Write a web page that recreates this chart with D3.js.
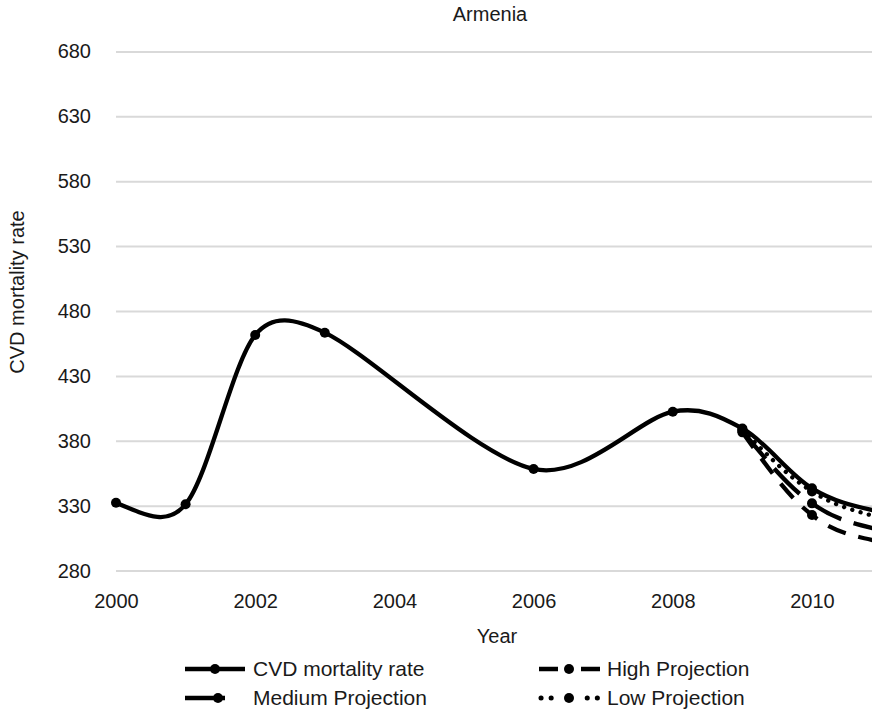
<!DOCTYPE html>
<html>
<head>
<meta charset="utf-8">
<script src="https://cdn.jsdelivr.net/npm/d3@7"></script>
<style>
  html, body { margin: 0; padding: 0; background: #fff; }
  svg { display: block; font-family: "Liberation Sans", Arial, Helvetica, sans-serif; }
</style>
</head>
<body>
<svg id="chart" width="872" height="714"></svg>
<script>
// ---- data ----
const chartTitle = "Armenia";
const years = [2000, 2001, 2002, 2003, 2006, 2008, 2009, 2010, 2011];
const cvdRate = [332.3, 331.1, 461.5, 463.3, 358.3, 402.4, 389.5, 343.4, 325.0];
const projYears = [2009, 2010, 2011];
const highProj = [386.5, 322.8, 302.0];
const mediumProj = [387.5, 331.8, 311.0];
const lowProj = [388.5, 341.0, 320.5];
const yTicks = [280, 330, 380, 430, 480, 530, 580, 630, 680];
const xTicks = [2000, 2002, 2004, 2006, 2008, 2010];
const seriesNames = ["CVD mortality rate", "High Projection", "Medium Projection", "Low Projection"];

// ---- smoothed-line curve (spreadsheet style Bezier smoothing) ----
function SmoothCurve(context) { this._context = context; }
SmoothCurve.prototype = {
  areaStart() {}, areaEnd() {},
  lineStart() { this._pts = []; },
  point(x, y) { this._pts.push([+x, +y]); },
  lineEnd() {
    const p = this._pts, n = p.length, c = this._context;
    if (!n) return;
    c.moveTo(p[0][0], p[0][1]);
    if (n === 1) return;
    if (n === 2) { c.lineTo(p[1][0], p[1][1]); return; }
    const dist = (a, b) => Math.hypot(b[0] - a[0], b[1] - a[1]);
    const outC = [], inC = [];
    for (let i = 1; i < n - 1; i++) {
      const d0 = dist(p[i - 1], p[i]), d1 = dist(p[i], p[i + 1]);
      const tx = (p[i + 1][0] - p[i - 1][0]) / 6, ty = (p[i + 1][1] - p[i - 1][1]) / 6;
      const fo = Math.sqrt(Math.min(1, 2 * d1 / (d0 + d1)));
      const fi = Math.sqrt(Math.min(1, 2 * d0 / (d0 + d1)));
      outC[i] = [p[i][0] + tx * fo, p[i][1] + ty * fo];
      inC[i] = [p[i][0] - tx * fi, p[i][1] - ty * fi];
    }
    outC[0] = [p[0][0] + (inC[1][0] - p[0][0]) * 2 / 3, p[0][1] + (inC[1][1] - p[0][1]) * 2 / 3];
    inC[n - 1] = [p[n - 1][0] + (outC[n - 2][0] - p[n - 1][0]) * 2 / 3,
                  p[n - 1][1] + (outC[n - 2][1] - p[n - 1][1]) * 2 / 3];
    for (let i = 0; i < n - 1; i++) {
      c.bezierCurveTo(outC[i][0], outC[i][1], inC[i + 1][0], inC[i + 1][1], p[i + 1][0], p[i + 1][1]);
    }
  }
};
const smoothCurve = ctx => new SmoothCurve(ctx);

// ---- layout ----
const svg = d3.select("#chart");
const left = 116, yearPx = 69.6;
const x = d3.scaleLinear().domain([2000, 2011]).range([left, left + 11 * yearPx]);
const y = d3.scaleLinear().domain([280, 680]).range([570.6, 51.4]);
const textColor = "#1a1a1a";
const fs = 20;

// gridlines
const grid = svg.append("g").attr("transform", `translate(${left},0)`)
  .call(d3.axisLeft(y).tickValues(yTicks).tickSize(-(x.range()[1] - left)).tickFormat(""));
grid.select(".domain").remove();
grid.selectAll("line").attr("stroke", "#d9d9d9").attr("stroke-width", 2);

// y axis labels
const yAx = svg.append("g").attr("transform", `translate(${left - 25},0)`)
  .call(d3.axisLeft(y).tickValues(yTicks).tickSize(0).tickPadding(0).tickFormat(d3.format("d")));
yAx.select(".domain").remove();
yAx.selectAll("text").attr("font-size", fs).attr("fill", textColor).attr("font-family", null);

// x axis labels
const xAx = svg.append("g").attr("transform", `translate(0,${y(280) + 23})`)
  .call(d3.axisBottom(x).tickValues(xTicks).tickSize(0).tickPadding(0).tickFormat(d3.format("d")));
xAx.select(".domain").remove();
xAx.selectAll("text").attr("font-size", fs).attr("fill", textColor).attr("font-family", null);

// titles
svg.append("text").attr("x", 490).attr("y", 21).attr("text-anchor", "middle")
  .attr("font-size", fs).attr("fill", textColor).text(chartTitle);
svg.append("text").attr("x", 497).attr("y", 643).attr("text-anchor", "middle")
  .attr("font-size", fs).attr("fill", textColor).text("Year");
svg.append("text").attr("transform", "translate(24,292) rotate(-90)").attr("text-anchor", "middle")
  .attr("font-size", fs).attr("fill", textColor).text("CVD mortality rate");

// ---- series ----
const lw = 4.3, r = 5;
const line = d3.line().x(d => x(d[0])).y(d => y(d[1])).curve(smoothCurve);
const series = [
  { name: seriesNames[0], xs: years, vs: cvdRate, dash: null, cap: "butt" },
  { name: seriesNames[1], xs: projYears, vs: highProj, dash: "19,13", cap: "butt" },
  { name: seriesNames[2], xs: projYears, vs: mediumProj, dash: "36,13", cap: "butt" },
  { name: seriesNames[3], xs: projYears, vs: lowProj, dash: "0.1,8.5", cap: "round" }
];
const plot = svg.append("g");
series.forEach(s => {
  const pts = s.xs.map((yr, i) => [yr, s.vs[i]]);
  plot.append("path").attr("d", line(pts)).attr("fill", "none")
    .attr("stroke", "#000").attr("stroke-width", lw)
    .attr("stroke-dasharray", s.dash).attr("stroke-linecap", s.cap);
  plot.selectAll(null).data(pts).enter().append("circle")
    .attr("cx", d => x(d[0])).attr("cy", d => y(d[1])).attr("r", r).attr("fill", "#000");
});

// ---- legend ----
const legendItems = [
  { s: series[0], lx: 185, ly: 669, dash: null, cap: "butt", x2: 245, cx: 215, w: lw },
  { s: series[1], lx: 539, ly: 669, dash: "19,23,19", cap: "butt", x2: 600, cx: 569, w: lw },
  { s: series[2], lx: 185, ly: 698, dash: "40,40", cap: "butt", x2: 245, cx: 218, w: lw },
  { s: series[3], lx: 541, ly: 698, dash: "0.1,10,0.1,36,0.1,10", cap: "round", x2: 600, cx: 569, w: 5 }
];
const lg = svg.append("g");
legendItems.forEach(it => {
  lg.append("line").attr("x1", it.lx).attr("x2", it.x2).attr("y1", it.ly).attr("y2", it.ly)
    .attr("stroke", "#000").attr("stroke-width", it.w)
    .attr("stroke-dasharray", it.dash).attr("stroke-linecap", it.cap);
  lg.append("circle").attr("cx", it.cx).attr("cy", it.ly).attr("r", r).attr("fill", "#000");
  lg.append("text").attr("x", it.lx < 300 ? 253 : 607).attr("y", it.ly).attr("dy", "0.35em")
    .attr("font-size", 21).attr("fill", textColor).text(it.s.name);
});
</script>
</body>
</html>
